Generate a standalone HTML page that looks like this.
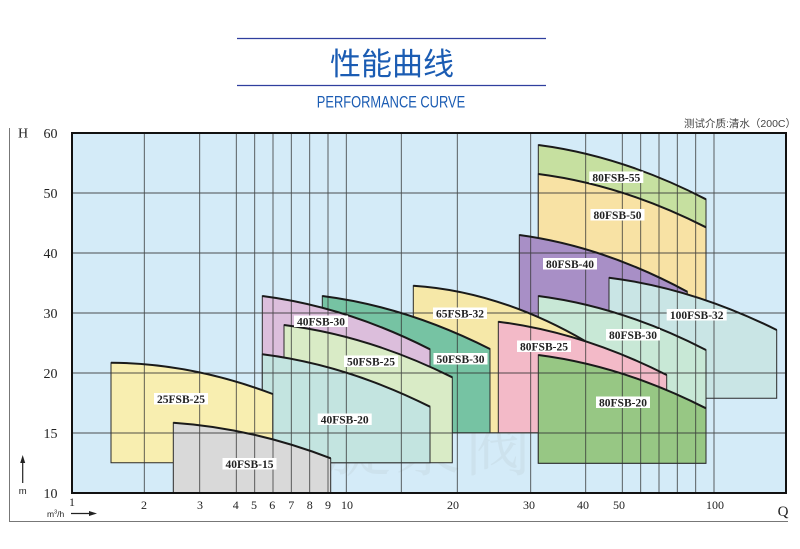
<!DOCTYPE html>
<html>
<head>
<meta charset="utf-8">
<style>
html,body{margin:0;padding:0;background:#fff;}
body{width:800px;height:549px;overflow:hidden;position:relative;}
svg{display:block;}
</style>
</head>
<body>
<svg width="800" height="549" viewBox="0 0 800 549" xmlns="http://www.w3.org/2000/svg">
  <!-- Header -->
  <line x1="237" y1="38.5" x2="546" y2="38.5" stroke="#2f3f9e" stroke-width="1.3"/>
  <text x="392" y="75" text-anchor="middle" font-family="'Liberation Sans','Noto Sans CJK SC',sans-serif" font-size="31" fill="#1b5cb3">性能曲线</text>
  <line x1="237" y1="85.5" x2="546" y2="85.5" stroke="#2f3f9e" stroke-width="1.3"/>
  <text x="391" y="107.5" text-anchor="middle" font-family="'Liberation Sans',sans-serif" font-size="16.5" fill="#1b5cb3" transform="translate(391 0) scale(0.78 1) translate(-391 0)">PERFORMANCE CURVE</text>
  <text x="796" y="127" text-anchor="end" font-family="'Liberation Sans','Noto Sans CJK SC',sans-serif" font-size="10.5" fill="#444">测试介质:清水（200C）</text>

  <!-- outer frame -->
  <line x1="9.5" y1="128" x2="9.5" y2="521" stroke="#777" stroke-width="1"/>
  <line x1="9" y1="521.5" x2="788" y2="521.5" stroke="#777" stroke-width="1"/>

  <!-- plot background -->
  <rect x="72" y="133" width="714" height="360" fill="#d4ebf8"/>

  <!-- faint watermark -->
  <text x="395" y="470" text-anchor="middle" font-family="'Noto Serif CJK SC','Noto Sans CJK SC',serif" font-size="66" fill="#9aa8a8" fill-opacity="0.12" letter-spacing="4">凯旋泵阀</text>

  <g stroke="#2a2a2a" stroke-width="1">
    <!-- 80FSB-55 -->
    <path d="M538.3 145 Q622.15 155.9 706 199.3 L706 240 L538.3 240 Z" fill="#c6e0a0"/>
    <!-- 80FSB-50 -->
    <path d="M538.3 174 Q622.15 184.7 706 227.3 L706 320 L538.3 320 Z" fill="#f8e2a4"/>
    <!-- 80FSB-40 -->
    <path d="M519.3 235 Q603.3 246.3 687.3 291.7 L687.3 330 L519.3 330 Z" fill="#a88fc6"/>
    <!-- 100FSB-32 -->
    <path d="M609 277.7 Q692.85 288.2 776.7 330 L776.7 398.3 L609 398.3 Z" fill="#c9e5e5"/>
    <!-- 80FSB-30 -->
    <path d="M538.3 296 Q622.15 306.8 706 350 L706 463.3 L538.3 463.3 Z" fill="#c8e8d6"/>
    <!-- 65FSB-32 -->
    <path d="M413.3 285.7 Q499.15 291.2 585 341 L585 432.7 L413.3 432.7 Z" fill="#f6e8a8"/>
    <!-- 80FSB-25 -->
    <path d="M498.3 321.7 Q582.5 332.4 666.7 375 L666.7 432.7 L498.3 432.7 Z" fill="#f3bac8"/>
    <!-- 80FSB-20 -->
    <path d="M538.3 355 Q622.15 365.7 706 408.3 L706 463.3 L538.3 463.3 Z" fill="#97c784"/>
    <!-- 50FSB-30 -->
    <path d="M322.3 296 Q406.15 306.6 490 349 L490 432.7 L322.3 432.7 Z" fill="#76c3a3"/>
    <!-- 40FSB-30 -->
    <path d="M262.3 296 Q346.15 306.7 430 349.3 L430 400 L262.3 400 Z" fill="#dcbedc"/>
    <!-- 50FSB-25 -->
    <path d="M284 325 Q368.15 335.5 452.3 377.3 L452.3 462.7 L284 462.7 Z" fill="#d9ebc6"/>
    <!-- 40FSB-20 -->
    <path d="M262.3 354.3 Q346.15 364.8 430 406.7 L430 462.7 L262.3 462.7 Z" fill="#c3e4e0"/>
    <!-- 25FSB-25 -->
    <path d="M111 362.7 Q191.85 363.3 272.7 394 L272.7 462.7 L111 462.7 Z" fill="#f8eeb0"/>
    <!-- 40FSB-15 -->
    <path d="M173.3 422.7 Q252 428 330.7 458.3 L330.7 493 L173.3 493 Z" fill="#d9d9d9"/>
  </g>

  <!-- grid -->
  <g stroke="#333" stroke-width="0.9" opacity="0.85">
    <line x1="144.3" y1="133" x2="144.3" y2="493"/>
    <line x1="199.7" y1="133" x2="199.7" y2="493"/>
    <line x1="236.3" y1="133" x2="236.3" y2="493"/>
    <line x1="254.7" y1="133" x2="254.7" y2="493"/>
    <line x1="273" y1="133" x2="273" y2="493"/>
    <line x1="291.3" y1="133" x2="291.3" y2="493"/>
    <line x1="309.7" y1="133" x2="309.7" y2="493"/>
    <line x1="328" y1="133" x2="328" y2="493"/>
    <line x1="346.3" y1="133" x2="346.3" y2="493"/>
    <line x1="401.3" y1="133" x2="401.3" y2="493"/>
    <line x1="457.3" y1="133" x2="457.3" y2="493"/>
    <line x1="530.7" y1="133" x2="530.7" y2="493"/>
    <line x1="585.7" y1="133" x2="585.7" y2="493"/>
    <line x1="622.3" y1="133" x2="622.3" y2="493"/>
    <line x1="640.7" y1="133" x2="640.7" y2="493"/>
    <line x1="659" y1="133" x2="659" y2="493"/>
    <line x1="677.3" y1="133" x2="677.3" y2="493"/>
    <line x1="695.7" y1="133" x2="695.7" y2="493"/>
    <line x1="714" y1="133" x2="714" y2="493"/>
    <line x1="72" y1="193" x2="786" y2="193"/>
    <line x1="72" y1="253" x2="786" y2="253"/>
    <line x1="72" y1="313" x2="786" y2="313"/>
    <line x1="72" y1="373" x2="786" y2="373"/>
    <line x1="72" y1="433" x2="786" y2="433"/>
  </g>

  <!-- thick top curves -->
  <g fill="none" stroke="#1a1a1a" stroke-width="2">
    <path d="M538.3 145 Q622.15 155.9 706 199.3"/>
    <path d="M538.3 174 Q622.15 184.7 706 227.3"/>
    <path d="M519.3 235 Q603.3 246.3 687.3 291.7"/>
    <path d="M609 277.7 Q692.85 288.2 776.7 330"/>
    <path d="M538.3 296 Q622.15 306.8 706 350"/>
    <path d="M413.3 285.7 Q499.15 291.2 585 341"/>
    <path d="M498.3 321.7 Q582.5 332.4 666.7 375"/>
    <path d="M538.3 355 Q622.15 365.7 706 408.3"/>
    <path d="M322.3 296 Q406.15 306.6 490 349"/>
    <path d="M262.3 296 Q346.15 306.7 430 349.3"/>
    <path d="M284 325 Q368.15 335.5 452.3 377.3"/>
    <path d="M262.3 354.3 Q346.15 364.8 430 406.7"/>
    <path d="M111 362.7 Q191.85 363.3 272.7 394"/>
    <path d="M173.3 422.7 Q252 428 330.7 458.3"/>
  </g>

  <!-- plot border -->
  <rect x="72" y="133" width="714" height="360" fill="none" stroke="#111" stroke-width="2"/>

  <!-- region labels -->
  <g font-family="'Liberation Serif',serif" font-weight="bold" font-size="11.5" fill="#222" text-anchor="middle">
    <rect x="589.3" y="171.5" width="54" height="11.5" fill="#fff"/><text x="616.3" y="181.5">80FSB-55</text>
    <rect x="590.5" y="209" width="54" height="11.5" fill="#fff"/><text x="617.5" y="219">80FSB-50</text>
    <rect x="543" y="258" width="54" height="11.5" fill="#fff"/><text x="570" y="268">80FSB-40</text>
    <rect x="666.7" y="309" width="60" height="11.5" fill="#fff"/><text x="696.7" y="319">100FSB-32</text>
    <rect x="606" y="329" width="54" height="11.5" fill="#fff"/><text x="633" y="339">80FSB-30</text>
    <rect x="517" y="340.5" width="54" height="11.5" fill="#fff"/><text x="544" y="350.5">80FSB-25</text>
    <rect x="596" y="396.5" width="54" height="11.5" fill="#fff"/><text x="623" y="406.5">80FSB-20</text>
    <rect x="433" y="307.5" width="54" height="11.5" fill="#fff"/><text x="460" y="317.5">65FSB-32</text>
    <rect x="433.5" y="353" width="54" height="11.5" fill="#fff"/><text x="460.5" y="363">50FSB-30</text>
    <rect x="294" y="315.5" width="54" height="11.5" fill="#fff"/><text x="321" y="325.5">40FSB-30</text>
    <rect x="344" y="355.5" width="54" height="11.5" fill="#fff"/><text x="371" y="365.5">50FSB-25</text>
    <rect x="317.7" y="413.5" width="54" height="11.5" fill="#fff"/><text x="344.7" y="423.5">40FSB-20</text>
    <rect x="154" y="393" width="54" height="11.5" fill="#fff"/><text x="181" y="403">25FSB-25</text>
    <rect x="222.5" y="458" width="54" height="11.5" fill="#fff"/><text x="249.5" y="468">40FSB-15</text>
  </g>

  <!-- y axis labels -->
  <g font-family="'Liberation Serif',serif" font-size="14" fill="#222" text-anchor="middle">
    <text x="23" y="137.5">H</text>
    <text x="50.5" y="138">60</text>
    <text x="50.5" y="198">50</text>
    <text x="50.5" y="258">40</text>
    <text x="50.5" y="318">30</text>
    <text x="50.5" y="378">20</text>
    <text x="50.5" y="438">15</text>
    <text x="50.5" y="498">10</text>
  </g>
  <!-- m arrow -->
  <line x1="22.7" y1="483" x2="22.7" y2="460" stroke="#222" stroke-width="1.2"/>
  <polygon points="22.7,455 20.2,463 25.2,463" fill="#222"/>
  <text x="22.7" y="494" text-anchor="middle" font-family="'Liberation Sans',sans-serif" font-size="9.5" fill="#222">m</text>

  <!-- x axis labels -->
  <g font-family="'Liberation Serif',serif" font-size="12" fill="#222" text-anchor="middle">
    <text x="72" y="506">1</text>
    <text x="144" y="509">2</text>
    <text x="200" y="509">3</text>
    <text x="235.7" y="509">4</text>
    <text x="254" y="509">5</text>
    <text x="272.3" y="509">6</text>
    <text x="291.3" y="509">7</text>
    <text x="309.7" y="509">8</text>
    <text x="328" y="509">9</text>
    <text x="347" y="509">10</text>
    <text x="453" y="509">20</text>
    <text x="529" y="509">30</text>
    <text x="583" y="509">40</text>
    <text x="619" y="509">50</text>
    <text x="715" y="509">100</text>
    <text x="783" y="516" font-size="15">Q</text>
  </g>
  <text x="47" y="517" font-family="'Liberation Sans',sans-serif" font-size="8.5" fill="#222">m<tspan font-size="5.5" dy="-3.5">3</tspan><tspan dy="3.5">/h</tspan></text>
  <line x1="71" y1="513.5" x2="92" y2="513.5" stroke="#222" stroke-width="1.2"/>
  <polygon points="97,513.5 89,511 89,516" fill="#222"/>
</svg>
</body>
</html>
